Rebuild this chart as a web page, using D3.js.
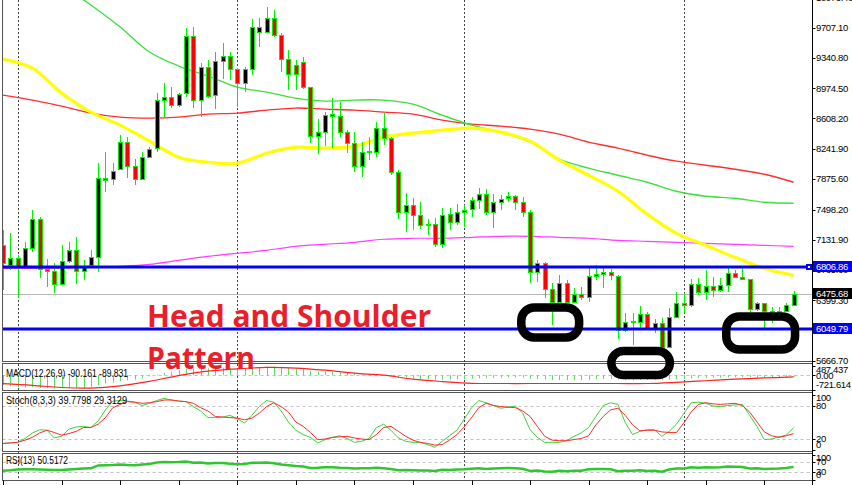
<!DOCTYPE html>
<html><head><meta charset="utf-8">
<script src="https://cdn.jsdelivr.net/npm/d3@7/dist/d3.min.js"></script>
<style>body{margin:0;background:#fff;}svg{display:block;}</style>
</head><body>
<svg id="c" width="852" height="485"></svg>
<script>
// ---------- DATA ----------
const opens = [7066,6823,6908,6799,7030,7383,6774,6750,6592,6872,
 7005,6750,6823,6920,7882,7870,7991,8320,8028,7870,
 8137,8247,8831,8867,8770,8916,9610,8831,9233,8892,
 9306,9366,9208,9038,9208,9659,9659,9829,9622,9330,
 9257,9293,8989,8393,8442,8636,8636,8442,8308,8028,
 8210,8198,8490,8369,7955,7468,7553,7432,7322,7322,
 7078,7444,7346,7468,7505,7614,7687,7468,7590,7638,
 7663,7590,7468,6738,6847,6531,6373,6604,6373,6470,
 6434,6689,6713,6738,6689,6032,6141,6129,6227,6056,
 6117,5825,6190,6361,6336,6592,6495,6567,6519,6580,
 6726,6677,6653,6288,6361,6263,6263,6263,6336];
const highs = [7249,7212,6945,7103,7493,7407,6896,6847,7066,7103,
 7164,6884,7005,8064,8198,8064,8405,8381,8113,8198,
 8259,8916,9038,8989,8916,9707,9719,9281,9318,9415,
 9525,9415,9220,9233,9817,9829,9963,9926,9646,9439,
 9318,9354,8995,8600,8685,8855,8807,8466,8442,8320,
 8381,8563,8673,8381,7979,7699,7638,7590,7383,7395,
 7517,7517,7565,7553,7650,7760,7748,7687,7675,7711,
 7675,7650,7493,6884,6859,6604,6701,6640,6543,6555,
 6786,6823,6799,6774,6701,6240,6240,6324,6251,6166,
 6178,6300,6495,6482,6653,6665,6762,6677,6665,6811,
 6762,6786,6660,6373,6365,6312,6312,6361,6507];
const lows = [6519,6762,6422,6799,6981,6665,6555,6482,6580,6847,
 6592,6640,6786,6738,7711,7797,7979,7882,7797,7857,
 8130,8198,8612,8734,8746,8867,8734,8624,8855,8721,
 9087,9074,8746,8928,9135,9476,9659,9598,9172,8953,
 8953,8965,8308,8174,8271,8247,8381,8186,7955,7894,
 8101,8137,8283,7918,7383,7225,7249,7261,7188,7042,
 7030,7249,7310,7285,7407,7505,7432,7273,7493,7590,
 7493,7407,6604,6616,6422,6093,6361,6361,6361,6397,
 6373,6640,6543,6640,5922,6008,5849,6044,6032,5995,
 5812,5820,6178,6240,6312,6458,6397,6434,6495,6495,
 6665,6640,6251,6263,6056,6117,6190,6251,6324];
const closes = [6847,6908,6811,7030,7383,6774,6750,6592,6872,7005,
 6750,6811,6920,7882,7857,7967,8320,8028,7870,8137,
 8235,8831,8867,8770,8904,9610,8831,9233,8880,9306,
 9366,9208,9038,9208,9719,9719,9829,9622,9330,9147,
 9147,8989,8393,8442,8648,8661,8442,8308,8028,8198,
 8205,8490,8369,7955,7468,7553,7432,7310,7316,7078,
 7432,7346,7468,7493,7614,7687,7468,7590,7627,7663,
 7590,7468,6738,6847,6531,6373,6604,6373,6470,6434,
 6689,6713,6738,6701,6032,6129,6135,6227,6056,6117,
 5825,6190,6361,6336,6592,6495,6567,6519,6580,6726,
 6677,6653,6288,6361,6263,6268,6270,6336,6476];

// moving averages, read every 4th bar
const maIndex = [0,4,8,12,16,20,24,28,32,36,40,44,48,52,56,60,64,68,72,76,80,84,88,92,96,100,104,108];
const maYellow  = [9330,9220,8916,8685,8527,8332,8137,8076,8064,8186,8259,8247,8271,8381,8430,8466,8490,8442,8332,8101,7918,7723,7444,7212,7066,6920,6786,6701];
const maGreen   = [10778,10510,10231,9987,9719,9415,9245,9123,8989,8928,8855,8819,8831,8831,8782,8648,8527,8442,8320,8113,8004,7918,7833,7723,7663,7638,7590,7578];
const maRed     = [8892,8831,8758,8673,8624,8612,8624,8661,8673,8709,8734,8721,8709,8685,8661,8588,8539,8515,8478,8417,8320,8247,8162,8089,8040,7991,7930,7833];
const maMagenta = [6786,6786,6786,6799,6811,6835,6884,6932,6969,7005,7054,7078,7103,7140,7152,7152,7164,7176,7176,7164,7152,7127,7115,7103,7091,7078,7066,7054];

const macdMain = [-500,-560,-600,-620,-600,-640,-660,-680,-660,-640,
 -650,-640,-620,-500,-420,-370,-300,-260,-220,-150,
 -60,40,120,180,230,320,330,350,340,360,
 380,370,350,340,380,400,430,440,420,380,
 340,300,220,180,170,160,140,110,60,40,
 20,20,0,-40,-100,-130,-160,-190,-210,-230,
 -230,-220,-210,-200,-180,-160,-150,-140,-130,-120,
 -120,-130,-180,-200,-220,-240,-240,-250,-250,-250,
 -230,-210,-200,-190,-220,-240,-250,-240,-240,-230,
 -250,-230,-210,-190,-170,-150,-140,-130,-120,-110,
 -100,-95,-105,-110,-115,-110,-105,-100,-90];
const macdSignal = [-430,-510,-620,-650,-540,-310,-20,200,320,390,360,250,100,0,-200,-320,-410,-420,-420,-420,-420,-420,-420,-360,-280,-200,-140,-90];

const stochMain = [11,12,13,20,30,36,35,21,24,37,
 41,42,40,52,72,88,89,88,86,80,
 84,89,93,90,88,87,78,70,58,58,
 59,62,56,48,62,78,89,86,70,50,
 35,27,22,12,18,22,25,20,13,15,
 20,40,46,35,21,15,13,13,9,4,
 15,25,35,55,76,89,85,80,75,77,
 79,66,36,22,13,13,13,16,24,30,
 40,60,80,85,82,49,27,33,36,36,
 24,33,46,65,85,86,84,79,78,80,
 81,82,62,42,18,19,23,26,40];
const stochSignal = [11,12,13,17,22,30,35,31,26,29,
 33,40,40,46,58,76,82,87,86,84,
 85,87,90,90,88,87,84,76,70,60,
 59,58,57,54,57,66,78,85,78,68,
 50,42,31,18,19,22,23,24,21,19,
 18,27,40,42,33,24,17,13,11,8,
 9,17,27,41,58,76,84,80,78,77,
 76,70,60,42,24,17,16,16,18,20,
 25,45,60,72,75,62,45,34,35,35,
 32,31,31,48,68,82,85,83,82,83,
 84,80,68,50,32,25,22,25,29];
const rsiValues = [35,37,40,41,41,40,39,38,38,40,
 42,44,45,56,57,58,60,58,57,60,
 62,68,70,69,70,72,67,68,64,66,
 66,63,61,62,67,67,68,65,60,57,
 54,52,46,47,49,49,47,46,44,45,
 45,47,45,42,37,38,37,36,36,34,
 39,38,40,41,43,45,42,44,45,46,
 45,43,34,36,32,31,35,33,35,35,
 41,42,42,41,33,35,35,37,34,35,
 31,40,44,44,49,47,49,48,49,52,
 51,50,44,45,42,43,44,46,50.5];

const priceTicks = [10073.4,9707.1,9340.8,8974.5,8608.2,8241.9,7875.6,7498.2,7131.9,6765.6,6399.3,6033.0,5666.7];
const priceTickLabels = ["10073.40","9707.10","9340.80","8974.50","8608.20","8241.90","7875.60","7498.20","7131.90","6765.60","6399.30","6033.00","5666.70"];
const levels = [6806.86, 6049.79];
const levelLabels = ["6806.86","6049.79"];
const bidPrice = 6475.68;
const bidLabel = "6475.68";
const periodSeparators = [2,32,63,93];
const timeTicks = [0,8,16,24,32,40,48,56,64,72,80,88,96,104];
const macdTicks = [487.437, 0, -721.614];
const macdTickLabels = ["487.437","0.00","-721.614"];
const stochTicks = [100,80,20,0];
const rsiTicks = [100,70,30,0];
const macdLabel = "MACD(12,26,9) -90.161 -89.831";
const stochLabel = "Stoch(8,3,3) 39.7798 29.3129";
const rsiLabel = "RSI(13) 50.5172";
const titleLine1 = "Head and Shoulder";
const titleLine2 = "Pattern";
// highlighted zones: bar index range and price range
const zones = [
  {i0:70.8, i1:78.7, p0:6312, p1:5947},
  {i0:83.1, i1:91.1, p0:5782, p1:5490},
  {i0:98.8, i1:108.2, p0:6202, p1:5801}
];

// ---------- LAYOUT ----------
const L = 2.5, R = 812.5;
const P = {
  main: {t:-1, b:361.5},
  macd: {t:363.5, b:390.5},
  stoch:{t:392.5, b:451.5},
  rsi:  {t:453.5, b:480.5}
};
const FONT = "'Liberation Sans', Arial, sans-serif";

const svg = d3.select('#c');
const x = d3.scaleLinear().domain([0,108]).range([3,793.6]);
const y = d3.scaleLinear().domain([5666.7,9707.1]).range([360.5,28]);
const yM = d3.scaleLinear().domain([-721.614,487.437]).range([389.5,365.5]);
const yS = d3.scaleLinear().domain([0,100]).range([449.5,394.5]);
const yR = d3.scaleLinear().domain([0,100]).range([479.5,454.5]);
const px = v => Math.round(v) + 0.5;

svg.append('rect').attr('width',852).attr('height',485).attr('fill','#fff');

const defs = svg.append('defs');
Object.entries(P).forEach(([k,p]) => {
  defs.append('clipPath').attr('id','clip-'+k).append('rect')
    .attr('x',L+0.5).attr('y',p.t+0.5).attr('width',R-L-1).attr('height',p.b-p.t-1);
});

// panel frames
Object.values(P).forEach(p => {
  svg.append('rect').attr('x',L).attr('y',p.t).attr('width',R-L).attr('height',p.b-p.t)
    .attr('fill','#fff').attr('stroke','#555').attr('stroke-width',1);
});

// period separators across all panels
svg.append('g').selectAll('line').data(periodSeparators).join('line')
  .attr('x1',d=>px(x(d))).attr('x2',d=>px(x(d))).attr('y1',0).attr('y2',P.rsi.b)
  .attr('stroke','#444').attr('stroke-width',1).attr('stroke-dasharray','2,2');

// ---------- MAIN ----------
const gm = svg.append('g').attr('clip-path','url(#clip-main)');
gm.append('line').attr('x1',L).attr('x2',R).attr('y1',px(y(bidPrice))).attr('y2',px(y(bidPrice)))
  .attr('stroke','#b8b8b8').attr('stroke-width',1);

const maLine = arr => d3.line().x((d,k)=>x(maIndex[k])).y(d=>y(d)).curve(d3.curveCatmullRom.alpha(0.5))(arr);
gm.append('path').attr('d',maLine(maMagenta)).attr('fill','none').attr('stroke','#ff3cff').attr('stroke-width',1.2);
gm.append('path').attr('d',maLine(maRed)).attr('fill','none').attr('stroke','#ff2e2e').attr('stroke-width',1.4);
gm.append('path').attr('d',maLine(maGreen)).attr('fill','none').attr('stroke','#3ee03e').attr('stroke-width',1.4);
gm.append('path').attr('d',maLine(maYellow)).attr('fill','none').attr('stroke','#ffff00').attr('stroke-width',3.2);

const idx = d3.range(closes.length);
gm.append('g').selectAll('line').data(idx).join('line')
  .attr('x1',i=>px(x(i))).attr('x2',i=>px(x(i)))
  .attr('y1',i=>Math.round(y(highs[i]))).attr('y2',i=>Math.round(y(lows[i])))
  .attr('stroke','#00f000').attr('stroke-width',1);
gm.append('g').selectAll('rect').data(idx).join('rect')
  .attr('x',i=>Math.round(x(i))-1.5).attr('width',4)
  .attr('y',i=>Math.round(y(Math.max(opens[i],closes[i])))+0.5)
  .attr('height',i=>Math.max(1,Math.round(y(Math.min(opens[i],closes[i])))-Math.round(y(Math.max(opens[i],closes[i])))))
  .attr('fill',i=>closes[i]>=opens[i]?'#000':'#ff0000')
  .attr('stroke','#00f000').attr('stroke-width',1);

// horizontal levels
svg.append('g').selectAll('line').data(levels).join('line')
  .attr('x1',L+0.5).attr('x2',R).attr('y1',d=>Math.round(y(d))).attr('y2',d=>Math.round(y(d)))
  .attr('stroke','#0000ff').attr('stroke-width',3);
svg.append('rect').attr('x',806).attr('y',Math.round(y(levels[0]))-3).attr('width',6).attr('height',6).attr('fill','#0000ff');
svg.append('rect').attr('x',808).attr('y',Math.round(y(levels[0]))-1).attr('width',2).attr('height',2).attr('fill','#fff');

// ---------- MACD ----------
const gmac = svg.append('g').attr('clip-path','url(#clip-macd)');
gmac.append('line').attr('x1',L).attr('x2',R).attr('y1',px(yM(0))).attr('y2',px(yM(0)))
  .attr('stroke','#c0c0c0').attr('stroke-dasharray','3,3');
gmac.append('g').selectAll('line').data(idx).join('line')
  .attr('x1',i=>px(x(i))).attr('x2',i=>px(x(i)))
  .attr('y1',yM(0)).attr('y2',i=>yM(macdMain[i]))
  .attr('stroke','#5fd85f').attr('stroke-width',1);
gmac.append('path').attr('d',d3.line().x((d,k)=>x(maIndex[k])).y(d=>yM(d)).curve(d3.curveCatmullRom.alpha(0.5))(macdSignal))
  .attr('fill','none').attr('stroke','#ff2020').attr('stroke-width',1.2);

// ---------- STOCH ----------
const gst = svg.append('g').attr('clip-path','url(#clip-stoch)');
gst.selectAll('line.g').data([80,20]).join('line').attr('class','g')
  .attr('x1',L).attr('x2',R).attr('y1',d=>px(yS(d))).attr('y2',d=>px(yS(d)))
  .attr('stroke','#c0c0c0').attr('stroke-dasharray','3,3');
gst.append('path').attr('d',d3.line().x((d,i)=>x(i)).y(d=>yS(d))(stochMain))
  .attr('fill','none').attr('stroke','#3cd23c').attr('stroke-width',1);
gst.append('path').attr('d',d3.line().x((d,i)=>x(i)).y(d=>yS(d))(stochSignal))
  .attr('fill','none').attr('stroke','#ff2a2a').attr('stroke-width',1);

// ---------- RSI ----------
const grs = svg.append('g').attr('clip-path','url(#clip-rsi)');
grs.selectAll('line.g').data([70,30]).join('line').attr('class','g')
  .attr('x1',L).attr('x2',R).attr('y1',d=>px(yR(d))).attr('y2',d=>px(yR(d)))
  .attr('stroke','#c0c0c0').attr('stroke-dasharray','3,3');
grs.append('path').attr('d',d3.line().x((d,i)=>x(i)).y(d=>yR(d))(rsiValues))
  .attr('fill','none').attr('stroke','#2ec82e').attr('stroke-width',2.4);

// panel labels
const lab = (t,yy,w) => svg.append('text').attr('x',6).attr('y',yy).text(t)
  .attr('font-family',FONT).attr('font-size',10).attr('fill','#000')
  .attr('textLength',w).attr('lengthAdjust','spacingAndGlyphs');
lab(macdLabel,377,122);
lab(stochLabel,404,121);
lab(rsiLabel,464,62);

// time ticks
svg.append('g').selectAll('line').data(timeTicks).join('line')
  .attr('x1',d=>px(x(d))).attr('x2',d=>px(x(d))).attr('y1',P.rsi.b).attr('y2',485)
  .attr('stroke','#000').attr('stroke-width',1);

// ---------- RIGHT AXIS ----------
svg.append('line').attr('x1',R).attr('x2',R).attr('y1',0).attr('y2',485).attr('stroke','#000');
const axisText = (g, vals, labels, scale, lo, hi) => {
  g.selectAll('line.t').data(vals).join('line').attr('class','t')
    .attr('x1',R).attr('x2',R+3).attr('y1',d=>px(scale(d))).attr('y2',d=>px(scale(d))).attr('stroke','#000');
  g.selectAll('text').data(vals).join('text')
    .attr('x',816).attr('y',d=>Math.max(lo,Math.min(hi,scale(d)))).attr('dy','0.35em')
    .text((d,k)=>labels[k])
    .attr('font-family',FONT).attr('font-size',9.5).attr('letter-spacing',-0.35).attr('fill','#000');
};
axisText(svg.append('g'), priceTicks, priceTickLabels, y, -10, 400);
axisText(svg.append('g'), macdTicks, macdTickLabels, yM, P.macd.t+6, P.macd.b-6);
axisText(svg.append('g'), stochTicks, stochTicks.map(String), yS, P.stoch.t+5.5, P.stoch.b-7);
axisText(svg.append('g'), rsiTicks, rsiTicks.map(String), yR, P.rsi.t+4, P.rsi.b-6);

// price tags
const tag = (v,t,fill) => {
  const yy = y(v);
  svg.append('rect').attr('x',R+0.5).attr('y',Math.round(yy)-6).attr('width',40).attr('height',11).attr('fill',fill);
  svg.append('text').attr('x',816).attr('y',Math.round(yy)).attr('dy','0.35em').text(t)
    .attr('font-family',FONT).attr('font-size',9.5).attr('letter-spacing',-0.35).attr('fill','#fff');
};
levels.forEach((v,k)=>tag(v,levelLabels[k],'#0000ff'));
tag(bidPrice,bidLabel,'#000');

// ---------- ANNOTATIONS ----------
svg.append('g').selectAll('rect').data(zones).join('rect')
  .attr('x',d=>x(d.i0)).attr('width',d=>x(d.i1)-x(d.i0))
  .attr('y',d=>y(d.p0)).attr('height',d=>y(d.p1)-y(d.p0))
  .attr('rx',d=>Math.min(13,(y(d.p1)-y(d.p0))/2)).attr('ry',d=>Math.min(13,(y(d.p1)-y(d.p0))/2))
  .attr('fill','none').attr('stroke','#000').attr('stroke-width',8.5);

const ann = (t,xx,yy,w) => svg.append('text').attr('x',xx).attr('y',yy).text(t)
  .attr('font-family',"'Open Sans', 'Liberation Sans', sans-serif").attr('font-weight',700)
  .attr('font-size',30).attr('fill','#ea1f2b')
  .attr('textLength',w).attr('lengthAdjust','spacingAndGlyphs');
ann(titleLine1,147,327,284);
ann(titleLine2,147,368.5,108);
</script>
</body></html>
